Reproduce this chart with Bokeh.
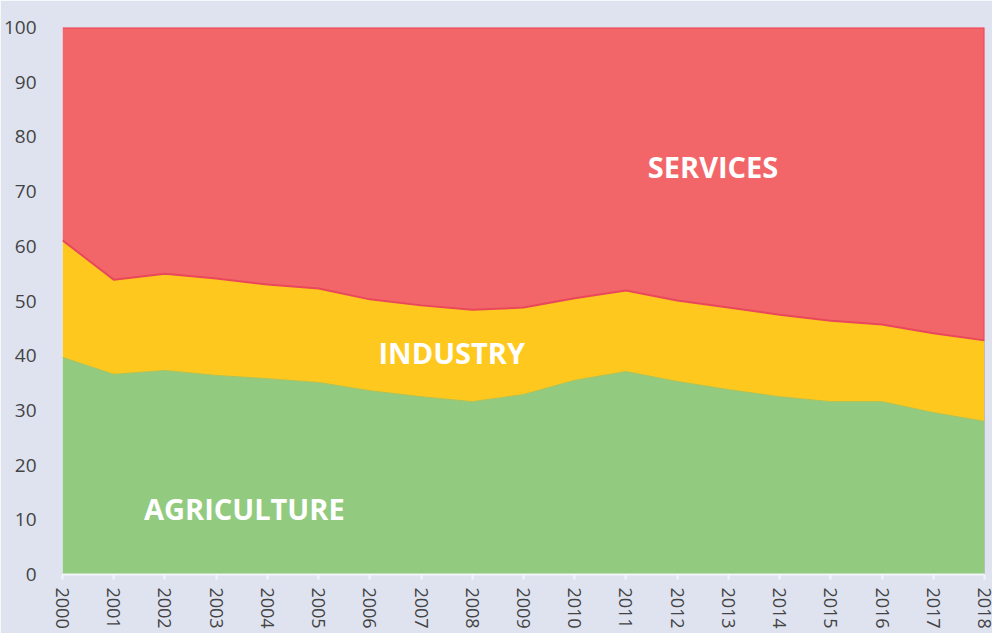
import math
from bokeh.plotting import figure
from bokeh.models import ColumnDataSource, FixedTicker, Range1d
from bokeh.core.properties import value
from bokeh.embed import file_html
from bokeh.resources import INLINE

years = list(range(2000, 2019))
agriculture = [39.7, 36.6, 37.3, 36.4, 35.8, 35.1, 33.6, 32.5, 31.6, 32.9,
               35.5, 37.1, 35.3, 33.8, 32.5, 31.6, 31.6, 29.6, 28.0]
industry_top = [61.1, 53.9, 55.0, 54.1, 53.0, 52.3, 50.3, 49.2, 48.4, 48.8,
                50.5, 51.9, 50.1, 48.8, 47.5, 46.4, 45.7, 44.1, 42.8]
industry = [round(t - a, 1) for t, a in zip(industry_top, agriculture)]
services = [round(100 - t, 1) for t in industry_top]

label_text = ["SERVICES", "INDUSTRY", "AGRICULTURE"]
label_x = [2012.7, 2007.6, 2003.55]
label_y = [74.5, 40.6, 12.1]

BG = "#dfe3f0"
RED = "#f26669"
YEL = "#fec81e"
GRN = "#92cb80"

src = ColumnDataSource(dict(year=years, agriculture=agriculture,
                            industry=industry, services=services))

p = figure(width=992, height=633, output_backend="svg", toolbar_location=None,
           x_range=Range1d(2000, 2018), y_range=Range1d(0, 100),
           background_fill_color=BG, border_fill_color=BG,
           min_border_left=61, min_border_right=8, min_border_top=27,
           min_border_bottom=59)
p.outline_line_color = None
p.grid.visible = False

p.varea_stack(["agriculture", "industry", "services"], x="year", source=src,
              color=[GRN, YEL, RED])

# boundary lines
cum1 = agriculture
cum2 = [a + b for a, b in zip(agriculture, industry)]
p.line(years, cum1, line_color="#a9c25a", line_width=1)
p.line(years, cum2, line_color="#e9485c", line_width=2)
p.line([2000, 2018], [100, 100], line_color="#e9485c", line_width=2)
p.line([2018, 2018], [cum2[-1], 100], line_color="#e9485c", line_width=2)
p.line([2018, 2018], [0, cum2[-1]], line_color="#999999", line_width=1)

p.text(x=label_x, y=label_y, text=label_text, text_color="white",
       text_font=value("Open Sans"), text_font_style="bold",
       text_font_size="29px", text_align="center", text_baseline="middle")

p.yaxis.ticker = FixedTicker(ticks=list(range(0, 101, 10)))
p.yaxis.axis_line_color = None
p.yaxis.major_tick_line_color = None
p.yaxis.minor_tick_line_color = None
p.yaxis.major_label_standoff = 20
p.yaxis.major_label_text_font = "Open Sans"
p.yaxis.major_label_text_font_size = "19px"
p.yaxis.major_label_text_color = "#444444"

p.xaxis.ticker = FixedTicker(ticks=years)
p.xaxis.axis_line_color = "#f4f5fa"
p.xaxis.axis_line_width = 2
p.xaxis.major_tick_line_color = "#f4f5fa"
p.xaxis.major_tick_line_width = 2
p.xaxis.major_tick_out = 5
p.xaxis.major_tick_in = 0
p.xaxis.minor_tick_line_color = None
p.xaxis.major_label_orientation = -math.pi / 2
p.xaxis.major_label_standoff = 8
p.xaxis.major_label_text_font = "Open Sans"
p.xaxis.major_label_text_font_size = "18px"
p.xaxis.major_label_text_color = "#444444"

open("out.html", "w").write(file_html(p, INLINE))
